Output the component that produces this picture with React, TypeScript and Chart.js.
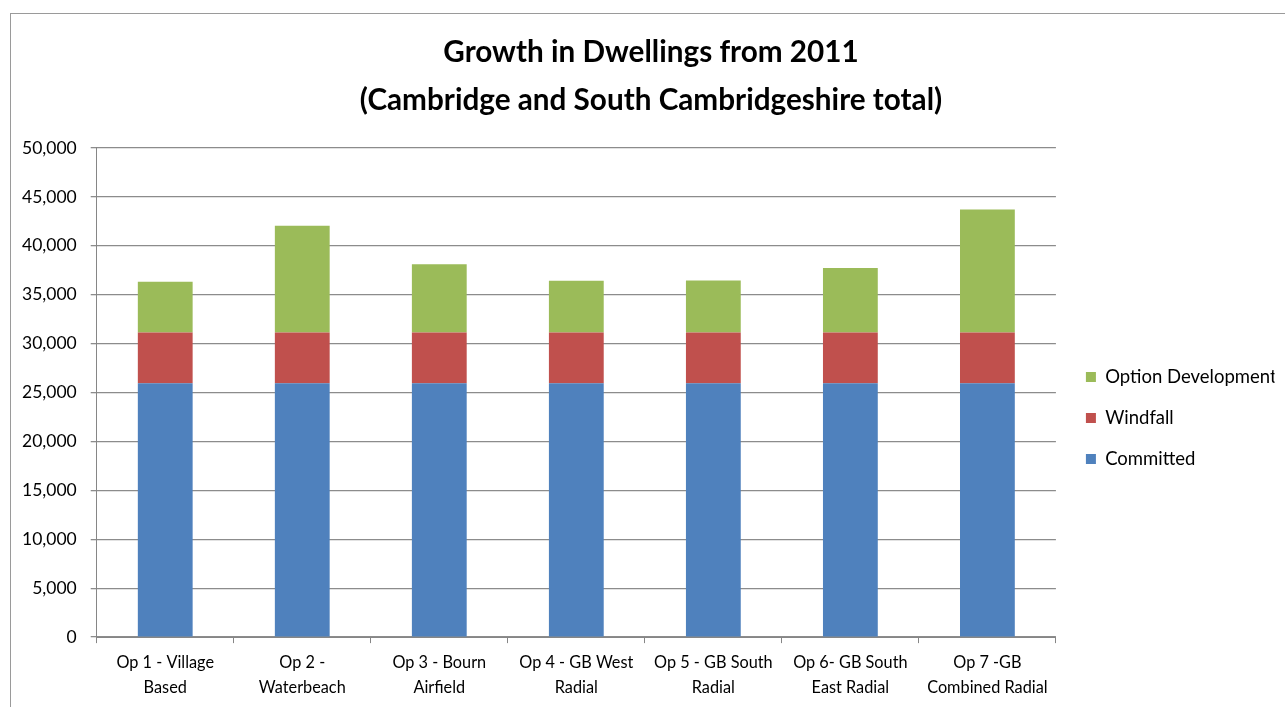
import React, { useEffect, useRef } from "react";
import { Chart, registerables } from "chart.js";

Chart.register(...registerables);

const categories: string[][] = [
  ["Op 1 - Village", "Based"],
  ["Op 2 -", "Waterbeach"],
  ["Op 3 - Bourn", "Airfield"],
  ["Op 4 - GB West", "Radial"],
  ["Op 5 - GB South", "Radial"],
  ["Op 6- GB South", "East Radial"],
  ["Op 7 -GB", "Combined Radial"],
];

const committed = [25960, 25960, 25960, 25960, 25960, 25960, 25960];
const windfall = [5170, 5170, 5170, 5170, 5170, 5170, 5170];
const optionDevelopment = [5190, 10910, 6990, 5300, 5320, 6590, 12580];

const titleLines = ["Growth in Dwellings from 2011", "(Cambridge and South Cambridgeshire total)"];

const FONT = "Lato, 'Open Sans', sans-serif";
const TITLE_CENTER_X = 651;

const titleShift = {
  id: "titleShift",
  afterLayout(chart: any) {
    const t = chart.titleBlock;
    if (!t) return;
    const d = TITLE_CENTER_X - (t.left + t.right) / 2;
    t.left += d;
    t.right += d;
  },
};

export default function App() {
  const canvasRef = useRef<HTMLCanvasElement | null>(null);

  useEffect(() => {
    const canvas = canvasRef.current;
    if (!canvas) return;
    const chart = new Chart(canvas, {
      type: "bar",
      data: {
        labels: categories,
        datasets: [
          { label: "Committed", data: committed, backgroundColor: "#4F81BD", borderWidth: 0 },
          { label: "Windfall", data: windfall, backgroundColor: "#C0504D", borderWidth: 0 },
          { label: "Option Development", data: optionDevelopment, backgroundColor: "#9BBB59", borderWidth: 0 },
        ],
      },
      plugins: [titleShift],
      options: {
        animation: false,
        responsive: false,
        devicePixelRatio: 1,
        layout: { padding: { left: 8, right: 10.5, top: 28, bottom: 0 } },
        datasets: { bar: { categoryPercentage: 1, barPercentage: 0.4 } },
        plugins: {
          title: {
            display: true,
            text: titleLines,
            color: "#000",
            font: { family: FONT, size: 29.7, weight: "bold", lineHeight: 1.616 },
            padding: { top: 0, bottom: 24 },
          },
          legend: {
            position: "right",
            reverse: true,
            title: {
              display: true,
              text: " ",
              font: { size: 1, lineHeight: 1 },
              padding: { top: 0, bottom: 100 },
            },
            labels: {
              boxWidth: 10,
              boxHeight: 10,
              color: "#000",
              padding: 22.5,
              font: { family: FONT, size: 18.5 },
            },
          },
          tooltip: { enabled: false },
        },
        scales: {
          x: {
            stacked: true,
            grid: {
              display: true,
              drawOnChartArea: false,
              drawTicks: true,
              tickLength: 6,
              color: "#868686",
            },
            border: { color: "#868686", width: 1 },
            ticks: {
              color: "#000",
              font: { family: FONT, size: 16.3, lineHeight: 1.53 },
              maxRotation: 0,
              autoSkip: false,
              padding: 7,
            },
          },
          y: {
            stacked: true,
            min: 0,
            max: 50000,
            grid: {
              color: "#8c8c8c",
              lineWidth: 1.3,
              drawTicks: true,
              tickLength: 6,
            },
            border: { color: "#868686", width: 1 },
            ticks: {
              stepSize: 5000,
              color: "#000",
              padding: 14,
              font: { family: FONT, size: 17.5 },
              callback: (v: any) => Number(v).toLocaleString("en-US"),
            },
          },
          yGap: {
            type: "linear",
            position: "right",
            display: true,
            grid: { display: false, drawTicks: false },
            border: { display: false },
            ticks: { display: false },
            afterFit: (s: any) => {
              s.width = 7.5;
            },
          },
        },
      },
    });
    return () => chart.destroy();
  }, []);

  return (
    <div style={{ position: "fixed", left: 0, top: 0, width: 1285, height: 707, background: "#fff", overflow: "hidden" }}>
      <div
        style={{
          position: "absolute",
          left: 10,
          top: 13,
          width: 1300,
          height: 720,
          borderLeft: "1.5px solid #9a9a9a",
          borderTop: "1.5px solid #9a9a9a",
          boxSizing: "border-box",
        }}
      />
      <canvas ref={canvasRef} width={1285} height={707} style={{ position: "absolute", left: 0, top: 0 }} />
    </div>
  );
}
